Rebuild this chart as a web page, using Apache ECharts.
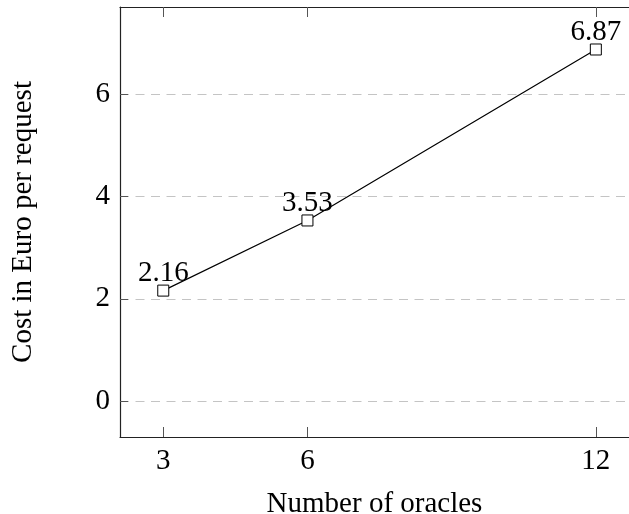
<!DOCTYPE html>
<html>
<head>
<meta charset="utf-8">
<script src="https://cdn.jsdelivr.net/npm/echarts@6/dist/echarts.min.js"></script>
<style>
  html, body { margin: 0; padding: 0; background: #fff; }
  #chart { width: 629px; height: 514px; }
</style>
</head>
<body>
<div id="chart"></div>
<script>
// data
var oracles = [3, 6, 12];
var cost = [2.16, 3.53, 6.87];
var xTicks = [3, 6, 12];

var serif = '"Liberation Serif", "DejaVu Serif", serif';
var fs = 29;

var chart = echarts.init(document.getElementById('chart'));

var option = {
  animation: false,
  grid: { left: 120, top: 7, right: 0, bottom: 77, outerBoundsMode: 'none' },
  xAxis: [
    {
      type: 'value',
      min: 2.1,
      max: 12.69,
      position: 'bottom',
      name: 'Number of oracles',
      nameLocation: 'middle',
      nameGap: 53,
      nameTextStyle: { fontFamily: serif, fontSize: fs, color: '#000' },
      axisLine: { onZero: false, lineStyle: { color: '#222', width: 1.2 } },
      axisTick: { inside: true, length: 10, customValues: xTicks, lineStyle: { color: '#555', width: 1 } },
      axisLabel: { customValues: xTicks, margin: 10, fontFamily: serif, fontSize: fs, color: '#000' },
      splitLine: { show: false }
    },
    {
      type: 'value',
      min: 2.1,
      max: 12.69,
      position: 'top',
      axisLine: { onZero: false, lineStyle: { color: '#222', width: 1.2 } },
      axisTick: { inside: true, length: 10, customValues: xTicks, lineStyle: { color: '#555', width: 1 } },
      axisLabel: { show: false },
      splitLine: { show: false }
    }
  ],
  yAxis: {
    type: 'value',
    min: -0.7,
    max: 7.7,
    name: 'Cost in Euro per request',
    nameLocation: 'middle',
    nameRotate: 90,
    nameGap: 82,
    nameTextStyle: { fontFamily: serif, fontSize: fs, color: '#000' },
    axisLine: { show: true, onZero: false, lineStyle: { color: '#222', width: 1.2 } },
    axisTick: { show: true, inside: true, length: 8, lineStyle: { color: '#555', width: 1 } },
    axisLabel: { margin: 10, showMinLabel: false, showMaxLabel: false, fontFamily: serif, fontSize: fs, color: '#000' },
    splitLine: {
      show: true,
      showMinLine: false,
      showMaxLine: false,
      lineStyle: { color: '#c4c4c4', width: 1, type: [9, 6.5] }
    }
  },
  series: [
    {
      type: 'line',
      data: oracles.map(function (x, i) { return [x, cost[i]]; }),
      symbol: 'rect',
      symbolSize: 11,
      showAllSymbol: true,
      lineStyle: { color: '#000', width: 1.2 },
      itemStyle: { color: '#fff', borderColor: '#000', borderWidth: 1 },
      label: {
        show: true,
        position: 'top',
        distance: -3,
        fontFamily: serif,
        fontSize: fs,
        color: '#000',
        formatter: function (p) { return p.value[1].toFixed(2); }
      },
      z: 5
    }
  ]
};

chart.setOption(option);
</script>
</body>
</html>
